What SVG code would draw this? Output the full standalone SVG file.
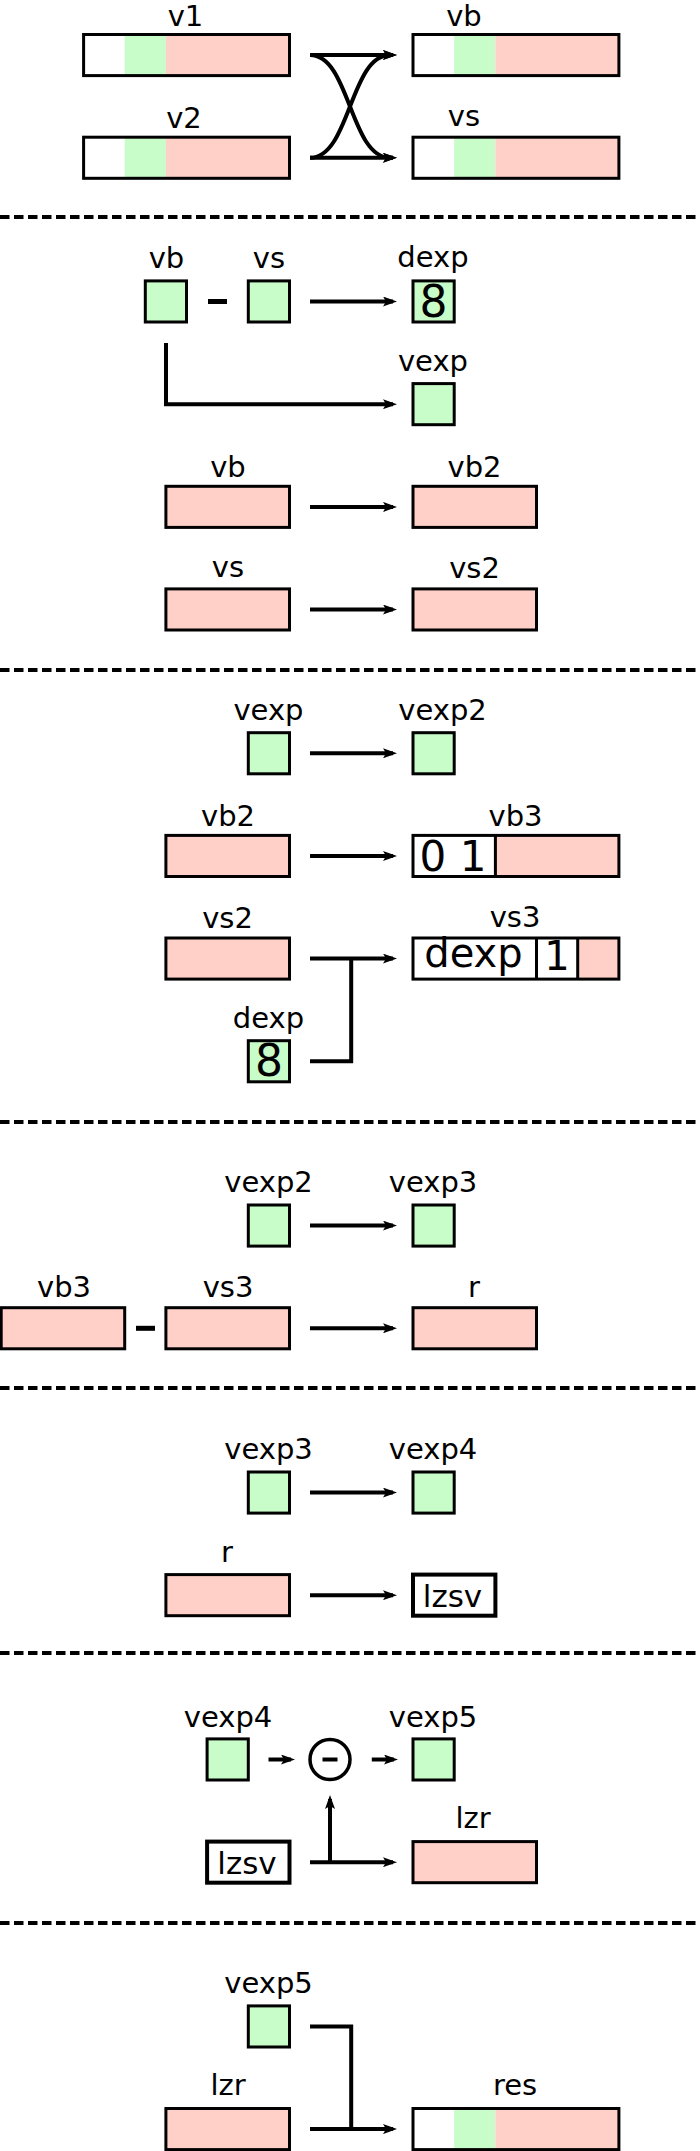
<svg xmlns="http://www.w3.org/2000/svg" width="700" height="2151" viewBox="0 0 700 2151">
<style>
.g{fill:#c8fcc8}
.p{fill:#fed0c8}
.w{fill:#ffffff}
.s{stroke:#000;stroke-width:3}
.o{fill:none;stroke:#000;stroke-width:3}
.t{font-family:"DejaVu Sans",sans-serif;font-size:29px;text-anchor:middle;fill:#000}
.conn{fill:none;stroke:#000;stroke-width:4}
.arr{marker-end:url(#ah)}
.dash{stroke:#000;stroke-width:4;stroke-dasharray:9.5 4.5}
.op{stroke:#000;stroke-width:5}
</style>
<defs>
<marker id="ah" markerUnits="userSpaceOnUse" viewBox="0 0 14 10" markerWidth="14" markerHeight="10" refX="10" refY="5" orient="auto">
<path d="M0,0 L14,5 L0,10 L3,5 Z" fill="#000"/>
</marker>
</defs>
<rect width="700" height="2151" fill="#fff"/>

<g id="separators">
<line class="dash" x1="0" y1="217" x2="700" y2="217"/>
<line class="dash" x1="0" y1="670" x2="700" y2="670"/>
<line class="dash" x1="0" y1="1122" x2="700" y2="1122"/>
<line class="dash" x1="0" y1="1388" x2="700" y2="1388"/>
<line class="dash" x1="0" y1="1653" x2="700" y2="1653"/>
<line class="dash" x1="0" y1="1923" x2="700" y2="1923"/>
</g>

<!-- Section 1 -->
<g id="v1">
<rect class="w" x="83.6" y="34.5" width="41.2" height="41.1"/>
<rect class="g" x="124.7" y="34.5" width="41.2" height="41.1"/>
<rect class="p" x="165.9" y="34.5" width="123.6" height="41.1"/>
<rect class="o" x="83.6" y="34.5" width="205.9" height="41.1"/>
<text class="t" x="185.5" y="25.5">v1</text>
</g>
<g id="v2">
<rect class="w" x="83.6" y="137.2" width="41.2" height="41.1"/>
<rect class="g" x="124.7" y="137.2" width="41.2" height="41.1"/>
<rect class="p" x="165.9" y="137.2" width="123.6" height="41.1"/>
<rect class="o" x="83.6" y="137.2" width="205.9" height="41.1"/>
<text class="t" x="184" y="127.5">v2</text>
</g>
<g id="vb">
<rect class="w" x="413" y="34.5" width="41.2" height="41.1"/>
<rect class="g" x="454.2" y="34.5" width="41.2" height="41.1"/>
<rect class="p" x="495.4" y="34.5" width="123.5" height="41.1"/>
<rect class="o" x="413" y="34.5" width="205.9" height="41.1"/>
<text class="t" x="464" y="25.5">vb</text>
</g>
<g id="vs">
<rect class="w" x="413" y="137.2" width="41.2" height="41.1"/>
<rect class="g" x="454.2" y="137.2" width="41.2" height="41.1"/>
<rect class="p" x="495.4" y="137.2" width="123.5" height="41.1"/>
<rect class="o" x="413" y="137.2" width="205.9" height="41.1"/>
<text class="t" x="464" y="125.5">vs</text>
</g>

<!-- Section 2 -->
<g id="s2-vb-exp">
<rect class="g s" x="145.3" y="280.9" width="41.2" height="41.1"/>
<text class="t" x="166.5" y="268">vb</text>
</g>
<g id="s2-minus"><line class="op" x1="208" y1="301.5" x2="227" y2="301.5"/></g>
<g id="s2-vs-exp">
<rect class="g s" x="248.3" y="280.9" width="41.2" height="41.1"/>
<text class="t" x="269" y="268">vs</text>
</g>
<g id="s2-dexp">
<rect class="g s" x="413" y="280.9" width="41.2" height="41.1"/>
<text class="t" x="433" y="267">dexp</text>
<text class="t" x="433.6" y="316.5" style="font-size:44px">8</text>
</g>
<g id="s2-vexp">
<rect class="g s" x="413" y="383.6" width="41.2" height="41.1"/>
<text class="t" x="433" y="371">vexp</text>
</g>
<g id="s2-vb">
<rect class="p s" x="165.9" y="486.3" width="123.6" height="41.1"/>
<text class="t" x="228" y="477">vb</text>
</g>
<g id="s2-vb2">
<rect class="p s" x="413" y="486.3" width="123.5" height="41.1"/>
<text class="t" x="474.5" y="477">vb2</text>
</g>
<g id="s2-vs">
<rect class="p s" x="165.9" y="588.9" width="123.6" height="41.1"/>
<text class="t" x="228" y="577">vs</text>
</g>
<g id="s2-vs2">
<rect class="p s" x="413" y="588.9" width="123.5" height="41.1"/>
<text class="t" x="474.5" y="578">vs2</text>
</g>

<!-- Section 3 -->
<g id="s3-vexp">
<rect class="g s" x="248.3" y="732.7" width="41.2" height="41.1"/>
<text class="t" x="268.5" y="720">vexp</text>
</g>
<g id="s3-vexp2">
<rect class="g s" x="413" y="732.7" width="41.2" height="41.1"/>
<text class="t" x="442.5" y="720">vexp2</text>
</g>
<g id="s3-vb2">
<rect class="p s" x="165.9" y="835.4" width="123.6" height="41.1"/>
<text class="t" x="228" y="826">vb2</text>
</g>
<g id="s3-vb3">
<rect class="w" x="413" y="835.4" width="82.4" height="41.1"/>
<rect class="p" x="495.4" y="835.4" width="123.5" height="41.1"/>
<line class="s" x1="495.4" y1="835.4" x2="495.4" y2="876.5"/>
<rect class="o" x="413" y="835.4" width="205.9" height="41.1"/>
<text class="t" x="453" y="871" style="font-size:42px">0 1</text>
<text class="t" x="515.5" y="826">vb3</text>
</g>
<g id="s3-vs2">
<rect class="p s" x="165.9" y="938" width="123.6" height="41.1"/>
<text class="t" x="227.5" y="928">vs2</text>
</g>
<g id="s3-vs3">
<rect class="w" x="413" y="938" width="164.7" height="41.1"/>
<rect class="p" x="577.7" y="938" width="41.2" height="41.1"/>
<line class="s" x1="536.5" y1="938" x2="536.5" y2="979.1"/>
<line class="s" x1="577.7" y1="938" x2="577.7" y2="979.1"/>
<rect class="o" x="413" y="938" width="205.9" height="41.1"/>
<text class="t" x="473.5" y="967" style="font-size:40px">dexp</text>
<text class="t" x="557" y="970" style="font-size:40px">1</text>
<text class="t" x="515" y="927">vs3</text>
</g>
<g id="s3-dexp">
<rect class="g s" x="248.3" y="1040.7" width="41.2" height="41.1"/>
<text class="t" x="268.5" y="1028">dexp</text>
<text class="t" x="268.9" y="1076.3" style="font-size:44px">8</text>
</g>

<!-- Section 4 -->
<g id="s4-vexp2">
<rect class="g s" x="248.3" y="1205" width="41.2" height="41.1"/>
<text class="t" x="268.5" y="1192">vexp2</text>
</g>
<g id="s4-vexp3">
<rect class="g s" x="413" y="1205" width="41.2" height="41.1"/>
<text class="t" x="433" y="1192">vexp3</text>
</g>
<g id="s4-vb3">
<rect class="p s" x="1.2" y="1307.7" width="123.5" height="41.1"/>
<text class="t" x="64" y="1297">vb3</text>
</g>
<g id="s4-minus"><line class="op" x1="136" y1="1328.3" x2="155" y2="1328.3"/></g>
<g id="s4-vs3">
<rect class="p s" x="165.9" y="1307.7" width="123.6" height="41.1"/>
<text class="t" x="228" y="1297">vs3</text>
</g>
<g id="s4-r">
<rect class="p s" x="413" y="1307.7" width="123.5" height="41.1"/>
<text class="t" x="474" y="1297">r</text>
</g>

<!-- Section 5 -->
<g id="s5-vexp3">
<rect class="g s" x="248.3" y="1472" width="41.2" height="41.1"/>
<text class="t" x="268.5" y="1459">vexp3</text>
</g>
<g id="s5-vexp4">
<rect class="g s" x="413" y="1472" width="41.2" height="41.1"/>
<text class="t" x="433" y="1459">vexp4</text>
</g>
<g id="s5-r">
<rect class="p s" x="165.9" y="1574.6" width="123.6" height="41.1"/>
<text class="t" x="227" y="1562">r</text>
</g>
<g id="s5-lzsv">
<rect x="413" y="1574.6" width="82.4" height="41.1" fill="#fff" stroke="#000" stroke-width="4"/>
<text class="t" x="452.5" y="1606.8" style="font-size:31px">lzsv</text>
</g>

<!-- Section 6 -->
<g id="s6-vexp4">
<rect class="g s" x="207.1" y="1738.9" width="41.2" height="41.1"/>
<text class="t" x="228" y="1727">vexp4</text>
</g>
<g id="s6-sub">
<circle cx="330" cy="1759.5" r="20" fill="#fff" stroke="#000" stroke-width="3.5"/>
<line x1="322.5" y1="1759.5" x2="337.5" y2="1759.5" stroke="#000" stroke-width="4"/>
</g>
<g id="s6-vexp5">
<rect class="g s" x="413" y="1738.9" width="41.2" height="41.1"/>
<text class="t" x="433" y="1727">vexp5</text>
</g>
<g id="s6-lzsv">
<rect x="207.1" y="1841.6" width="82.4" height="41.1" fill="#fff" stroke="#000" stroke-width="4"/>
<text class="t" x="247" y="1874.2" style="font-size:31px">lzsv</text>
</g>
<g id="s6-lzr">
<rect class="p s" x="413" y="1841.6" width="123.5" height="41.1"/>
<text class="t" x="473" y="1828">lzr</text>
</g>

<!-- Section 7 -->
<g id="s7-vexp5">
<rect class="g s" x="248.3" y="2005.9" width="41.2" height="41.1"/>
<text class="t" x="268.5" y="1993">vexp5</text>
</g>
<g id="s7-lzr">
<rect class="p s" x="165.9" y="2108.5" width="123.6" height="41.1"/>
<text class="t" x="228" y="2095">lzr</text>
</g>
<g id="s7-res">
<rect class="w" x="413" y="2108.5" width="41.2" height="41.1"/>
<rect class="g" x="454.2" y="2108.5" width="41.2" height="41.1"/>
<rect class="p" x="495.4" y="2108.5" width="123.5" height="41.1"/>
<rect class="o" x="413" y="2108.5" width="205.9" height="41.1"/>
<text class="t" x="515" y="2095">res</text>
</g>

<g id="connectors">
<path class="conn arr" d="M310,55 H393"/>
<path class="conn arr" d="M310,157.8 H393"/>
<path class="conn arr" d="M310,55 C350,55 350,157.8 390,157.8 H393"/>
<path class="conn arr" d="M310,157.8 C350,157.8 350,55 390,55 H393"/>

<path class="conn arr" d="M310,301.5 H393"/>
<path class="conn arr" d="M166,343 V404.2 H393"/>
<path class="conn arr" d="M310,506.9 H393"/>
<path class="conn arr" d="M310,609.5 H393"/>

<path class="conn arr" d="M310,753.3 H393"/>
<path class="conn arr" d="M310,856 H393"/>
<path class="conn arr" d="M310,958.6 H393"/>
<path class="conn" d="M310,1061.3 H351.2 V958.6"/>

<path class="conn arr" d="M310,1225.6 H393"/>
<path class="conn arr" d="M310,1328.3 H393"/>

<path class="conn arr" d="M310,1492.6 H393"/>
<path class="conn arr" d="M310,1595.2 H393"/>

<path class="conn arr" d="M268.5,1759.5 H291"/>
<path class="conn arr" d="M371.8,1759.5 H394"/>
<path class="conn arr" d="M330,1862.2 V1799"/>
<path class="conn arr" d="M310,1862.2 H393"/>

<path class="conn" d="M310,2026.5 H351.2 V2129.1"/>
<path class="conn arr" d="M310,2129.1 H393"/>
</g>
</svg>
